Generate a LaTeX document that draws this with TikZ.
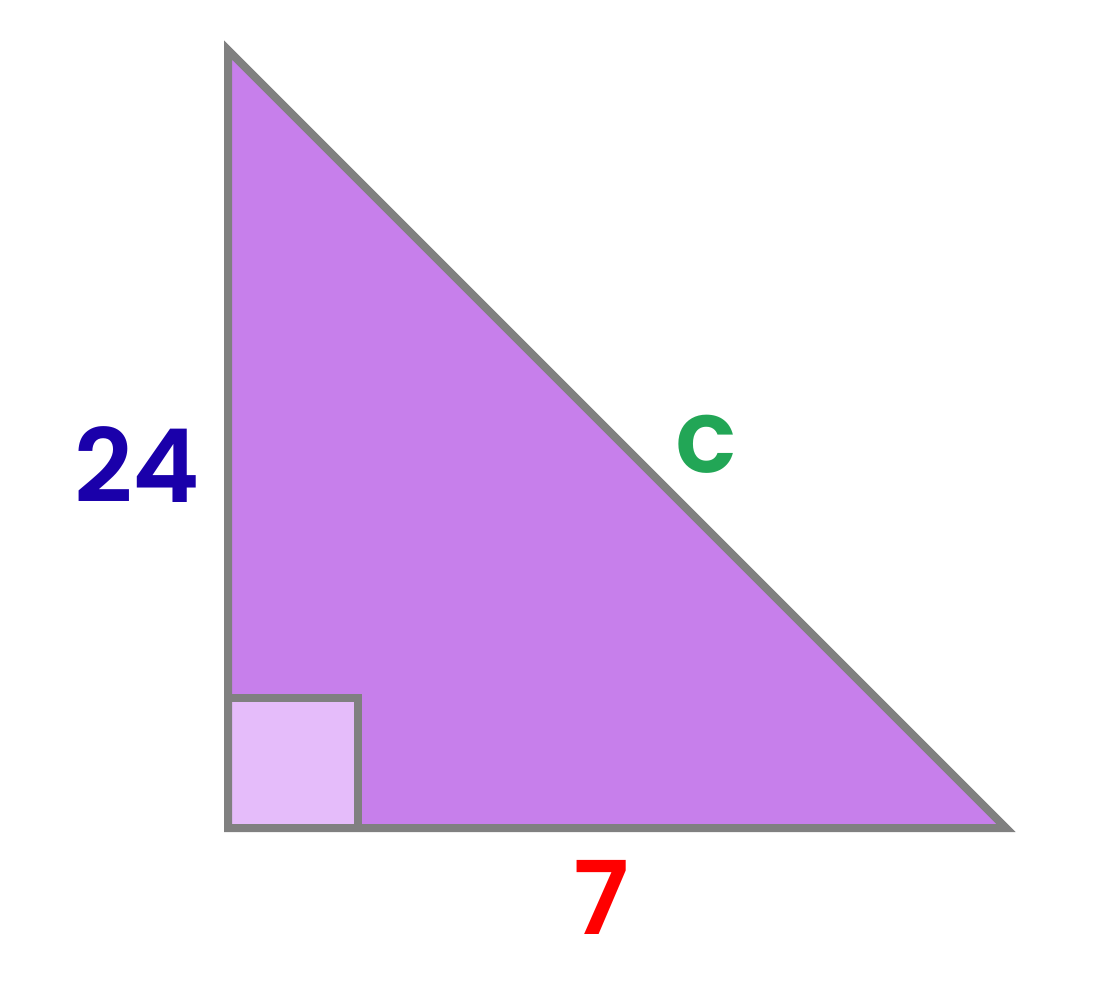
\documentclass[tikz,border=0pt]{standalone}
\usepackage{fontspec}
\setmainfont{Poppins}
\newfontfamily\lblfont{Poppins SemiBold}
\definecolor{edgegray}{HTML}{808080}
\definecolor{trifill}{HTML}{C77FEB}
\definecolor{sqfill}{HTML}{E5BCFA}
\definecolor{legblue}{HTML}{1A00AA}
\definecolor{hypgreen}{HTML}{22A656}
\definecolor{legred}{HTML}{FF0000}
\begin{document}
\begin{tikzpicture}[side/.style = {draw = edgegray,line width = 0.08cm},
    lbl/.style = {font = \fontsize{29}{35}\selectfont\lblfont,anchor = center}]
        \useasboundingbox (0,0) rectangle (11.12,10.04);
        \coordinate (top) at (2.28,9.54);
        \coordinate (corner) at (2.28,1.76);
        \coordinate (right) at (10.06,1.76);
        \coordinate (sq) at (3.58,3.06);
        \fill [trifill] (top) -- (corner) -- (right) -- cycle;
        \draw [side,fill = sqfill] (corner) rectangle (sq);
        \draw [side] (top) -- (corner) -- (right) -- cycle;
        \node [lbl,text = legblue] (height) at (1.37,5.39) {24};
        \node [lbl,text = hypgreen] (hyp) at (7.06,5.60) {c};
        \node [lbl,text = legred] (base) at (6.01,1.07) {7};
    \end{tikzpicture}
\end{document}
